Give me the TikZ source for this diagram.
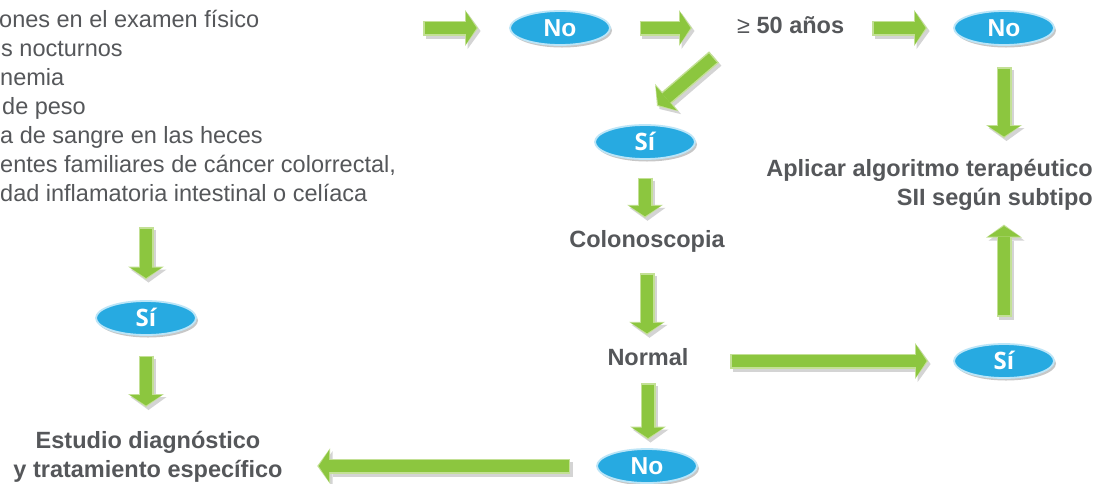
\documentclass[tikz,border=0pt]{standalone}
\usepackage{fontspec}
\setmainfont{Liberation Sans}
\newfontfamily\sifont{Open Sans}
\usetikzlibrary{shapes.geometric,arrows.meta,shadows,calc}
\definecolor{txtgray}{HTML}{55575A}
\definecolor{ovalblue}{HTML}{27AAE1}
\definecolor{ovalrim}{HTML}{BCE5F7}
\definecolor{agreen}{HTML}{8CC63F}
\definecolor{agreenrim}{HTML}{C3E095}
\definecolor{ashadow}{HTML}{D4D4D4}
\tikzset{
  listtext/.style={anchor=base west, inner sep=0pt, text=txtgray, font=\fontsize{23.5}{29}\selectfont},
  label/.style={inner sep=0pt, text=txtgray, font=\bfseries\fontsize{23.5}{29}\selectfont},
  oval/.style={ellipse, fill=ovalblue, draw=ovalrim, line width=1.8pt, minimum width=100pt,
    minimum height=34pt, inner sep=0pt, text=white, text depth=0pt,
    drop shadow={shadow xshift=2pt, shadow yshift=-2.5pt, fill=black, opacity=0.22}},
  notext/.style={text height=17.5pt, font=\bfseries\fontsize{24.5}{26}\selectfont},
  sitext/.style={text height=17pt, font=\sifont\bfseries\fontsize{24}{26}\selectfont},
  arrshadow/.style={draw=ashadow, line width=15pt, -{Triangle[width=36pt,length=13pt,line width=0pt]},
    transform canvas={shift={(2.5pt,-3pt)}}},
  arrborder/.style={draw=agreenrim, line width=15pt, -{Triangle[width=36pt,length=13pt,line width=0pt]}},
  arrmain/.style={draw=agreen, line width=12pt, -{Triangle[width=32pt,length=10.5pt,line width=0pt]}},
}
\newcommand\conn[4]{%
  \draw[arrshadow, shorten <=#3, shorten >=#4] #1 -- #2;
  \draw[arrborder, shorten <=#3, shorten >=#4] #1 -- #2;
  \draw[arrmain, shorten <={#3+1.5pt}, shorten >={#4+1.5pt}] #1 -- #2;}
\begin{document}
\begin{tikzpicture}[x=1pt,y=-1pt]
\fill[white] (0,0) rectangle (1105,483);
\useasboundingbox (0,0) rectangle (1105,483);

% left list (cut at the left edge)
\node[listtext] (l1) at (-1,27) {ones en el examen físico};
\node[listtext] (l2) at (1,56) {s nocturnos};
\node[listtext] (l3) at (0,85) {nemia};
\node[listtext] (l4) at (2,114) {de peso};
\node[listtext] (l5) at (0,143) {a de sangre en las heces};
\node[listtext] (l6) at (0,172) {entes familiares de cáncer colorrectal,};
\node[listtext] (l7) at (0,201) {dad inflamatoria intestinal o celíaca};
\coordinate (a1s) at (423,28);

% ovals
\node[oval, notext] (no1) at (560,28) {No};
\node[oval, notext] (no2) at (1004,28) {No};
\node[oval, sitext] (si1) at (645,142) {Sí};
\node[oval, sitext] (sir) at (1004,361) {Sí};
\node[oval, sitext] (si2) at (146,318) {Sí};
\node[oval, notext] (no3) at (647,466) {No};

% labels
\node[label, anchor=base west] (ge50) at (737,33) {{\mdseries ≥} 50 años};
\node[label, anchor=north east, align=right] (apl) at (1093,159) {Aplicar algoritmo terapéutico\\SII según subtipo};
\node[label, anchor=base] (colon) at (647,247) {Colonoscopia};
\node[label, anchor=base] (normal) at (648,365) {Normal};
\node[label, anchor=north, align=center] (est) at (148,431) {Estudio diagnóstico\\y tratamiento específico};
\coordinate (d1) at (714,57);
\coordinate (d2) at (657,106);

% connectors
\conn{(a1s)}{(no1.west)}{0pt}{31pt}
\conn{(no1.east)}{(ge50.west |- no1.east)}{29pt}{45pt}
\conn{(ge50.east |- no2.west)}{(no2.west)}{28pt}{26pt}
\conn{(no2.south)}{(no2.south |- apl.north)}{21.5pt}{21pt}
\conn{(sir.north)}{(sir.north |- apl.south)}{26.6pt}{14pt}
\conn{(d1)}{(d2)}{0pt}{0pt}
\conn{(si1.south)}{(si1.south |- colon.north)}{17.6pt}{12pt}
\conn{(colon.south)}{(colon.south |- normal.north)}{21pt}{13pt}
\conn{(normal.south)}{(normal.south |- no3.north)}{18pt}{8.6pt}
\conn{(normal.east |- sir.west)}{(sir.west)}{41.5pt}{25pt}
\conn{(no3.west)}{(no3.west -| est.east)}{26pt}{34.5pt}
\conn{(si2.north |- l7.south)}{(si2.north)}{26pt}{20.6pt}
\conn{(si2.south)}{(si2.south |- est.north)}{19.6pt}{24pt}
\end{tikzpicture}
\end{document}
